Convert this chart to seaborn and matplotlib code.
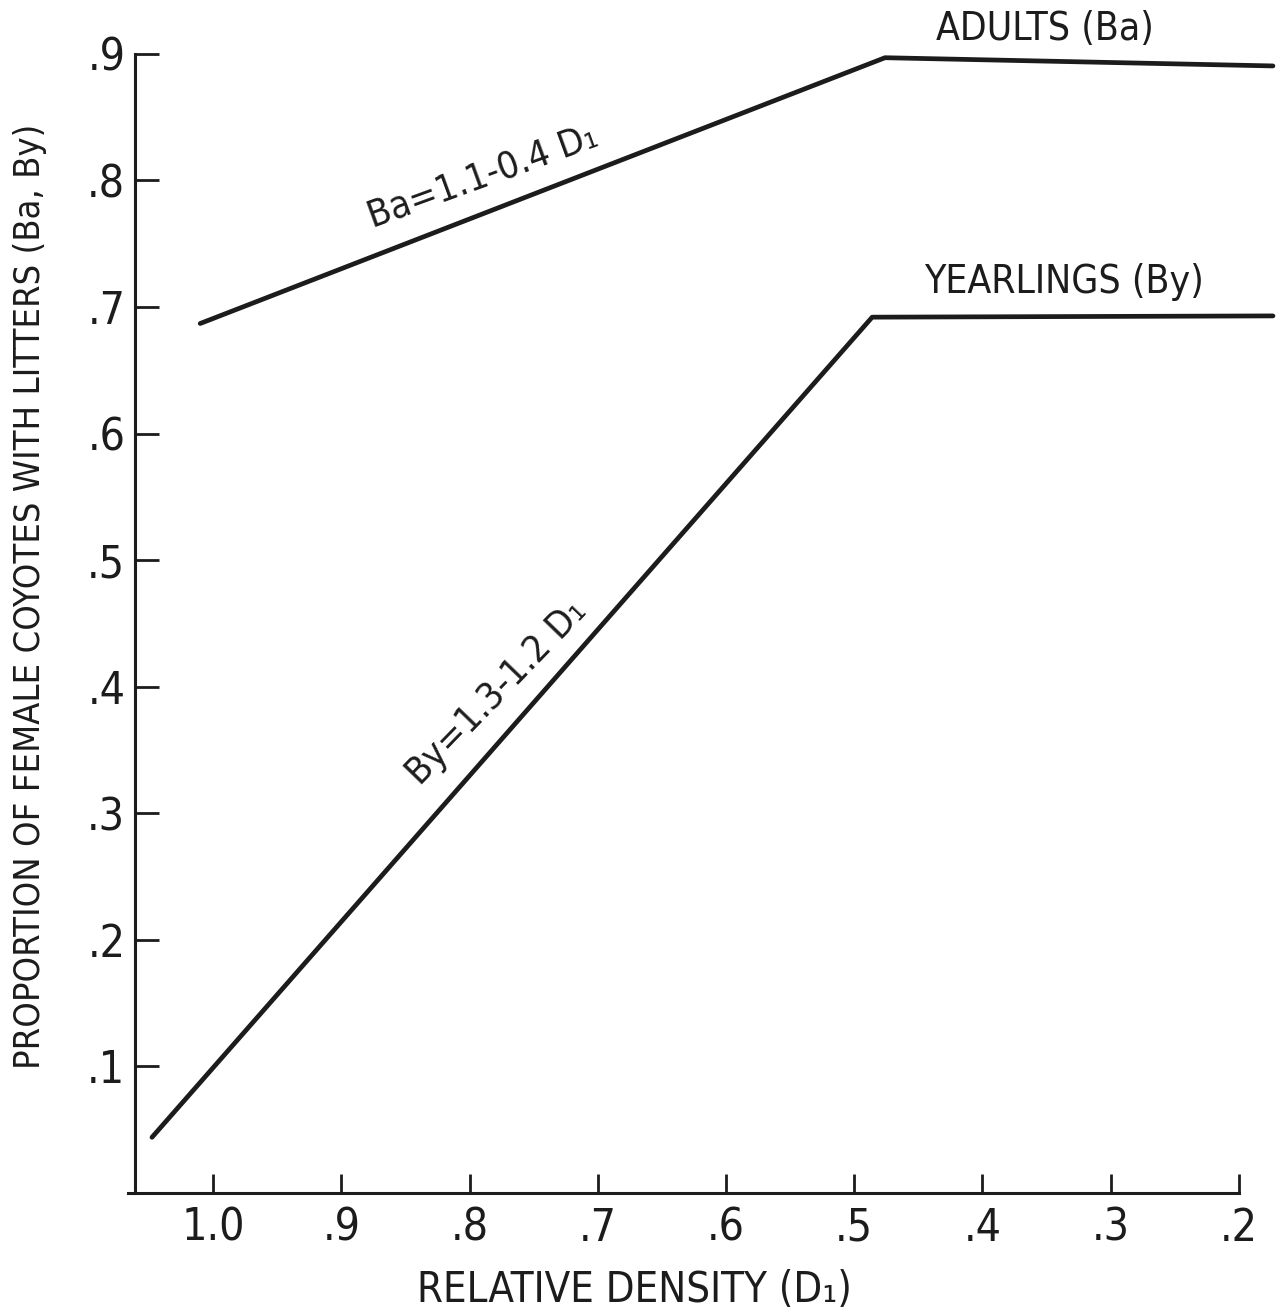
import matplotlib
matplotlib.use("Agg")
import matplotlib.pyplot as plt
from matplotlib import font_manager as fm
import seaborn as sns
import pandas as pd

# ---- data ----
adult_density = [1.010, 0.476, 0.1735]
adult_prop = [0.687, 0.897, 0.8905]
yearling_density = [1.0476, 0.486, 0.1735]
yearling_prop = [0.044, 0.692, 0.693]

x_ticks = [1.0, 0.9, 0.8, 0.7, 0.6, 0.5, 0.4, 0.3, 0.2]
x_tick_labels = ["1.0", ".9", ".8", ".7", ".6", ".5", ".4", ".3", ".2"]
y_ticks = [0.1, 0.2, 0.3, 0.4, 0.5, 0.6, 0.7, 0.8, 0.9]
y_tick_labels = [".1", ".2", ".3", ".4", ".5", ".6", ".7", ".8", ".9"]

x_label = "RELATIVE DENSITY (D\u2081)"
y_label = "PROPORTION OF FEMALE COYOTES WITH LITTERS (Ba, By)"
adult_name = "ADULTS (Ba)"
yearling_name = "YEARLINGS (By)"
adult_eq = "Ba=1.1-0.4 D\u2081"
yearling_eq = "By=1.3-1.2 D\u2081"

sns.set_theme(style="white")

names = {f.name for f in fm.fontManager.ttflist}
stretch = "normal"
if "Liberation Sans Narrow" in names:
    FAM = ["Liberation Sans Narrow", "DejaVu Sans"]
elif any(f.name == "DejaVu Sans" and f.stretch == "condensed" for f in fm.fontManager.ttflist):
    FAM = ["DejaVu Sans"]
    stretch = "condensed"
else:
    FAM = ["DejaVu Sans"]
plt.rcParams["font.family"] = FAM
plt.rcParams["font.stretch"] = stretch

INK = "#1c1c1c"

fig = plt.figure(figsize=(12.83, 13.16), dpi=100)
ax = fig.add_axes([128 / 1283, (1316 - 1193) / 1316, 1152 / 1283, 1193 / 1316])

df_a = pd.DataFrame({"density": adult_density, "prop": adult_prop})
df_y = pd.DataFrame({"density": yearling_density, "prop": yearling_prop})
sns.lineplot(data=df_a, x="density", y="prop", sort=False, color=INK, lw=3.4, ax=ax)
sns.lineplot(data=df_y, x="density", y="prop", sort=False, color=INK, lw=3.4, ax=ax)

ax.set_xlim(1.0663, 0.168)
ax.set_ylim(0, 0.9426)

for s in ["top", "right"]:
    ax.spines[s].set_visible(False)
ax.spines["left"].set_position(("data", 1.0608))
ax.spines["left"].set_bounds(0, 0.9)
ax.spines["bottom"].set_bounds(1.0663, 0.2)
for s in ["left", "bottom"]:
    ax.spines[s].set_color(INK)
    ax.spines[s].set_linewidth(2.2)

ax.set_xticks(x_ticks)
ax.set_xticklabels(x_tick_labels)
ax.set_yticks(y_ticks)
ax.set_yticklabels(y_tick_labels)
ax.tick_params(axis="x", bottom=True, direction="in", length=14, width=2, colors=INK,
               pad=10, labelsize=32)
ax.tick_params(axis="y", left=True, direction="in", length=17, width=2, colors=INK,
               pad=7, labelsize=32)

ax.set_xlabel(x_label, fontsize=30, color=INK)
ax.xaxis.label.set_va("center")
ax.xaxis.set_label_coords(0.44, -0.0813)
ax.set_ylabel(y_label, fontsize=26, color=INK)
ax.yaxis.label.set_va("center")
ax.yaxis.set_label_coords(-0.0855, 0.5004)

ax.text(0.351, 0.9197, adult_name, fontsize=28, color=INK, ha="center", va="center")
ax.text(0.3365, 0.7198, yearling_name, fontsize=28, color=INK, ha="center", va="center")
ax.text(0.7895, 0.802, adult_eq, fontsize=27, color=INK, ha="center", va="center",
        rotation=20, rotation_mode="anchor")
ax.text(0.7786, 0.395, yearling_eq, fontsize=27, color=INK, ha="center", va="center",
        rotation=46, rotation_mode="anchor")

fig.savefig("out.png", dpi=100, facecolor="white")
